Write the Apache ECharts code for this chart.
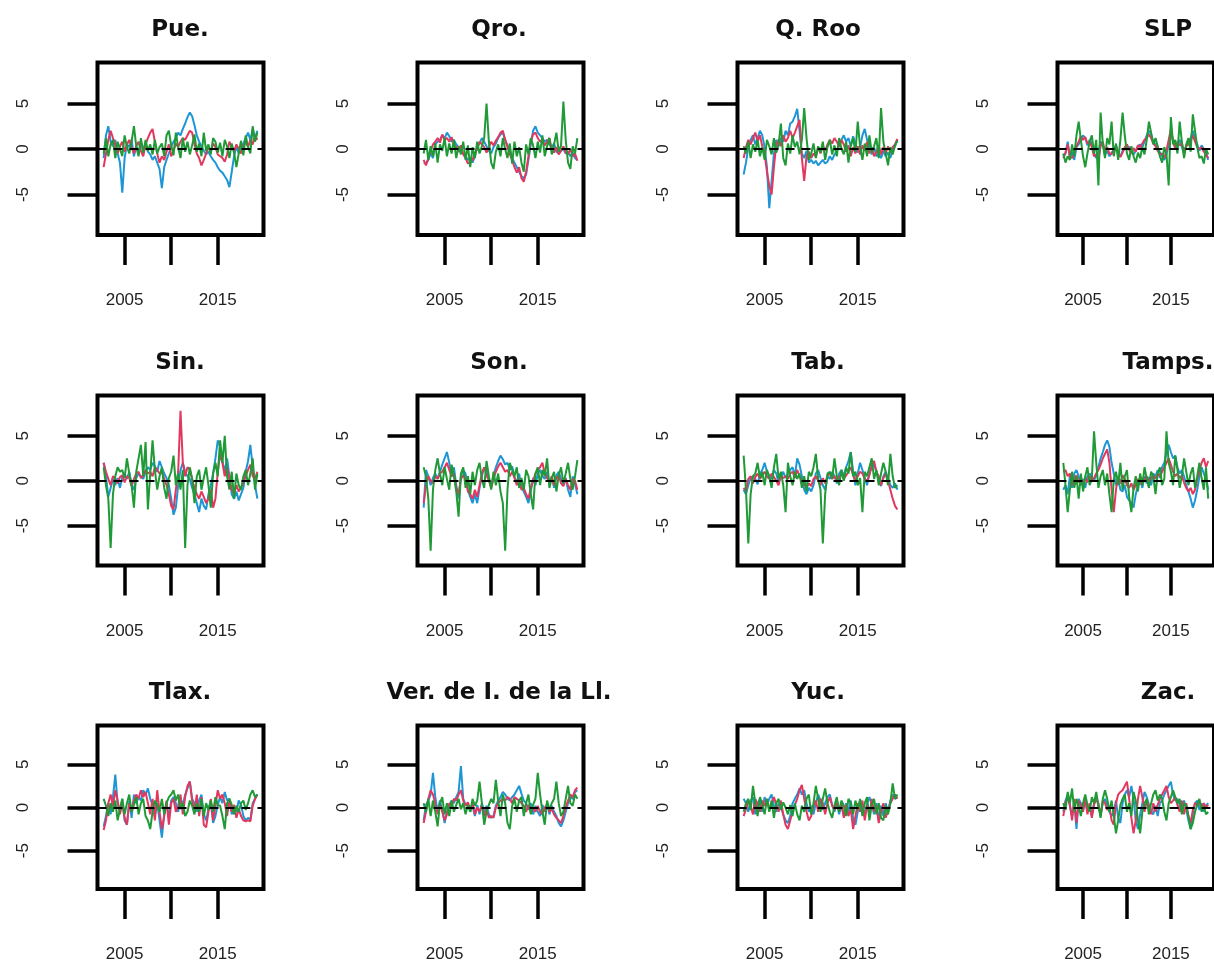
<!DOCTYPE html>
<html style="height:100%">
<head>
    <meta charset="UTF-8">
    <title>Panels</title>
    <script src="https://cdn.jsdelivr.net/npm/echarts@6/dist/echarts.min.js"></script>
</head>
<body style="height:100%;margin:0">
<div id="main" style="width:1214px;height:963px"></div>
<script>
// quarterly observations, first one at 2002 Q4
var firstQuarter = 2002.75, quarterStep = 0.25;
var tickYears = [2005, 2010, 2015];
var labelYears = [2005, 2015];
var yTicks = [-5, 0, 5];
var panelTitles = ['Pue.', 'Qro.', 'Q. Roo', 'SLP', 'Sin.', 'Son.', 'Tab.', 'Tamps.',
    'Tlax.', 'Ver. de I. de la Ll.', 'Yuc.', 'Zac.'];

var pueBlue = [-1.0,1.5,2.5,0.8,0.3,1.0,-0.5,-1.5,-4.8,-1.0, 0.5,0.2,1.0,-0.8,0.3,-0.5,0.8,-0.2,0.5,-0.3, -0.6,-1.2,-0.8,-1.5,-2.2,-4.3,-2.0,-1.2,-0.5,0.3, 0.8,1.2,1.8,1.5,2.2,2.8,3.5,4.0,3.6,2.6, 1.5,0.8,0.3,-0.2,-0.6,-0.3,-0.8,-1.2,-1.5,-2.0, -2.4,-2.6,-3.0,-3.4,-4.2,-2.5,-0.8,0.3,-0.5,0.2, 0.6,1.2,1.8,1.0,2.2,1.2,2.0];
var pueRed = [-2.0,-0.5,1.0,2.0,1.2,0.5,-0.5,0.3,0.8,-0.3, 0.5,1.0,0.2,-0.5,0.3,0.8,-0.2,-0.8,0.5,1.2, 1.8,2.2,0.8,-0.5,-1.5,-0.8,-1.2,-0.3,0.5,-0.8, -0.2,0.6,0.2,0.8,1.2,1.0,1.5,2.0,1.8,0.5, -0.5,-1.0,-1.8,-1.2,-0.5,0.2,-0.3,0.6,0.2,-0.6, -0.8,-1.0,-1.4,-0.6,0.8,0.2,-0.3,0.5,0.0,-0.5, 0.3,0.8,0.2,1.0,0.5,1.5,1.0];
var pueGreen = [-0.5,1.2,-0.8,0.5,1.0,-1.0,0.8,0.0,-0.8,1.5, 0.2,-0.5,0.8,2.5,0.3,-0.8,1.2,-0.4,1.0,-0.2, 0.5,-0.6,1.0,-0.5,0.2,0.6,-0.8,1.5,2.0,0.4, -0.7,1.8,0.2,-1.0,1.2,-0.3,0.8,-0.6,0.4,1.6, -0.3,0.6,-0.8,1.8,-0.2,0.5,-0.6,1.2,0.8,-0.4, 0.7,-0.8,1.0,0.3,-1.0,0.6,-0.4,-2.0,-0.5,0.9, -0.7,1.5,0.2,-0.5,2.5,0.8,1.8];

var qroBlue = [-1.5,-1.6,-1.2,-0.5,-1.0,0.5,0.8,1.0,1.5,1.2, 1.8,1.4,0.8,1.0,0.5,0.2,0.0,-0.5,-0.8,-1.2, -1.0,-1.5,-0.8,0.2,0.6,1.2,0.8,0.3,-0.2,-0.5, 0.2,0.6,1.2,1.6,1.8,1.0,0.4,-0.2,-1.0,-1.5, -2.0,-2.5,-3.0,-3.2,-2.8,-1.2,0.5,2.0,2.5,1.8, 1.5,1.2,0.8,1.0,0.5,0.2,0.6,-0.3,-0.5,-0.2, 0.0,-0.5,-0.3,-0.8,-0.4,-1.0,-1.2];
var qroRed = [-1.2,-1.8,-1.0,-0.2,0.5,0.8,1.2,0.7,1.6,1.0, 1.2,0.8,1.3,0.5,0.2,-0.3,0.4,-0.6,-1.0,-1.6, -1.4,-1.2,-0.5,0.0,0.8,0.5,0.2,-0.4,0.2,0.8, 0.4,0.9,1.3,1.8,2.0,1.0,0.2,-0.6,-1.2,-2.0, -2.6,-2.0,-3.2,-3.6,-2.5,-0.8,0.8,1.6,1.8,1.2, 0.8,1.0,0.4,0.8,1.2,0.0,-0.4,0.2,-0.6,-0.2, 0.3,-0.4,-0.6,0.0,-0.8,-0.5,-1.3];
var qroGreen = [-0.5,1.0,-1.2,0.3,-0.8,0.6,-1.5,0.5,-0.2,1.2, -0.8,0.6,-0.5,1.0,-1.0,0.3,-0.6,0.8,-1.2,0.4, -2.0,0.2,-1.0,0.8,-0.5,0.3,1.2,5.0,0.8,-1.5, -2.2,-0.3,0.5,-0.8,1.2,0.0,-1.0,0.6,-1.6,0.8, -0.8,0.2,-1.5,-2.5,0.5,-0.6,1.2,0.4,-1.0,0.8, -0.4,1.5,-0.8,0.3,1.2,-0.6,0.5,1.8,-0.3,0.4, 5.2,1.0,-1.5,-2.2,0.3,-0.5,1.2];

var qrooBlue = [-2.8,-1.5,0.2,1.0,1.5,0.5,1.2,2.0,1.5,0.2, -2.0,-6.5,-3.5,-0.5,1.0,0.3,1.2,0.8,2.0,1.5, 2.8,3.0,3.6,4.4,2.0,-0.5,-1.0,-0.2,-1.5,-1.2, -1.6,-1.3,-1.8,-1.5,-1.2,-1.6,-1.4,-0.8,-1.2,-0.6, -0.2,0.5,1.0,1.5,0.8,1.2,0.3,1.4,0.6,-0.4, 0.2,1.5,2.2,1.0,0.4,-0.6,0.2,-0.8,-0.5,-1.0, -0.2,-0.8,-0.4,-1.0,0.0,0.3,1.0];
var qrooRed = [-1.0,0.2,1.0,0.5,1.2,1.8,0.8,1.5,0.3,-0.5, -2.5,-4.0,-5.0,-2.0,0.5,1.0,0.3,1.5,0.8,1.2, 2.0,1.2,1.8,2.5,3.2,-1.0,-3.5,-0.8,-0.3,-1.0, -0.5,-0.8,0.2,-0.5,0.3,-0.2,0.5,1.0,0.6,1.2, 0.8,0.2,1.0,0.5,-0.3,0.4,-0.8,0.2,-0.5,0.3, -0.6,0.4,-0.2,0.8,-0.5,0.2,-0.8,-0.3,0.4,-0.6, 0.2,-0.5,0.3,-0.4,0.2,0.5,1.1];
var qrooGreen = [0.3,-0.5,0.8,-1.0,0.5,-0.3,1.0,-0.8,0.2,-1.2, 1.0,0.3,-0.6,1.2,-0.4,0.5,2.8,-1.0,-1.8,0.6, -0.5,1.5,0.2,0.8,-0.6,1.0,4.5,1.2,-1.2,-0.5, 0.6,-1.0,0.3,-0.4,0.8,-1.2,0.2,1.0,-0.6,0.4, -0.8,1.2,0.0,-0.6,0.8,-1.5,0.4,1.2,-0.3,3.0, 0.2,-1.2,0.6,-0.8,1.5,-0.4,0.3,1.2,-1.0,4.5, 0.8,-0.5,-1.8,0.2,-0.6,0.4,0.9];

var slpBlue = [-0.8,-0.5,0.8,-1.0,-0.3,-1.2,0.2,0.5,1.0,1.5, 1.2,0.4,1.0,0.6,-0.5,-1.0,-0.3,0.8,0.5,-0.6, -0.2,-0.8,-0.4,-0.2,0.4,-0.6,-0.8,-0.2,0.0,0.3, 0.2,-0.4,-0.6,-0.2,0.3,0.5,0.2,0.8,1.5,2.0, 1.6,0.8,0.5,0.2,-0.4,-0.8,-1.2,-0.6,0.5,1.8, 1.0,0.3,0.6,1.0,0.2,-0.5,0.4,0.8,1.2,2.0, 1.2,0.5,-0.2,0.4,0.0,-0.4,-1.2];
var slpRed = [-1.0,-0.4,0.5,-0.8,-1.0,-0.5,0.3,0.8,1.4,1.0, 1.3,0.6,0.8,0.2,-0.8,-0.6,-1.2,0.3,0.8,-0.3, 0.2,-0.5,-0.6,0.0,0.3,-0.3,-0.9,-0.4,0.2,0.5, -0.1,-0.5,0.1,-0.3,0.4,0.2,0.6,1.0,1.2,1.6, 1.2,0.6,0.3,-0.2,-0.6,-0.5,-1.0,-0.2,1.0,2.2, 0.8,0.0,0.8,0.4,0.6,-0.2,0.3,0.5,0.9,1.5, 0.8,0.2,0.0,0.2,-0.3,-0.6,-1.0];
var slpGreen = [-0.5,-1.5,-0.8,-1.2,0.5,-0.8,1.5,3.0,1.0,-0.8, -2.0,-0.5,0.8,1.5,-0.5,1.0,-4.0,4.0,0.5,-1.0, 1.2,0.5,3.0,-0.8,0.6,-1.2,1.0,4.0,1.5,-0.5, -1.2,0.3,-0.8,-1.5,-0.4,-1.0,0.2,-0.6,1.0,3.0, 1.8,0.5,1.2,0.3,-0.8,-1.5,0.2,-0.6,-4.0,3.5, 0.5,1.0,-0.5,3.0,0.8,-1.0,0.5,1.2,-0.3,3.8, 2.0,0.2,-1.0,-0.8,-1.6,0.0,-0.6];

var sinBlue = [2.0,0.5,-1.8,-0.8,0.2,-0.5,0.3,-0.8,0.4,0.8, 0.2,1.0,-0.5,-1.0,0.3,0.8,0.5,0.2,1.0,1.5, 1.2,2.0,1.6,1.0,2.2,1.5,0.8,0.3,-0.5,-2.0, -3.8,-3.0,-0.5,1.2,2.0,1.0,0.5,0.2,-0.8,-1.5, -2.5,-3.5,-2.0,-2.8,-3.2,-1.5,-0.5,0.8,2.5,4.5, 3.8,2.2,1.0,2.5,0.5,-1.5,-2.0,-1.2,-2.2,-1.5, -0.8,1.0,2.2,4.0,1.5,-0.5,-2.0];
var sinRed = [2.0,1.0,0.2,-0.5,0.5,0.2,-0.3,0.4,0.6,-0.2, 0.5,0.3,-0.6,0.2,0.8,1.0,0.3,0.6,1.2,0.8, 1.0,0.5,1.5,1.2,0.8,1.0,0.2,-0.5,-1.5,-2.8, -3.2,-1.0,1.0,7.8,2.0,0.5,1.5,1.2,0.2,-0.8, -1.5,-2.0,-1.2,-1.8,-2.5,-2.0,-1.0,-3.0,-2.0,1.0, 3.0,2.0,0.5,1.5,0.2,-1.0,-1.5,-0.5,-1.2,-0.8, -0.2,0.5,1.2,1.8,0.5,0.2,1.0];
var sinGreen = [1.5,-0.5,-2.0,-7.5,-1.5,0.5,1.5,1.0,1.2,0.3, 2.5,0.8,-0.5,-3.0,1.0,2.5,4.0,0.5,4.3,-3.2, 0.8,4.5,1.2,-1.0,0.5,1.5,-0.8,-2.0,0.3,1.0, 2.8,-0.5,0.8,-1.0,1.2,-7.5,-0.5,1.5,0.2,-2.5, 0.5,1.2,-1.0,0.3,1.5,-0.5,-3.0,0.8,2.0,0.5, 4.5,2.0,5.0,0.5,-1.0,1.0,-2.0,0.8,-0.5,-1.0, 0.5,1.2,-0.5,0.8,2.5,-1.0,0.8];

var sonBlue = [-3.0,1.2,0.5,-0.5,0.3,0.8,0.2,1.0,1.8,2.5, 3.2,2.0,0.5,1.5,-0.5,-2.0,0.5,1.2,0.8,-1.0, -1.8,-2.5,-1.5,-2.5,-0.8,0.5,1.5,1.0,0.2,-0.5, 0.5,1.5,2.2,2.8,2.4,1.8,2.0,1.2,1.6,0.5, -0.3,0.8,-0.8,-1.2,-1.8,-2.5,-1.2,0.3,-0.5,0.8, 1.2,0.5,0.2,1.0,-0.3,0.4,-0.8,0.6,1.0,0.2, -0.5,0.3,-1.0,-1.8,0.5,-0.3,-1.5];
var sonRed = [-2.5,-0.5,0.5,0.0,-0.3,0.5,0.2,0.8,1.0,1.5, 2.0,1.2,0.5,0.8,-0.8,-1.5,0.2,0.6,0.3,-1.2, -1.5,-2.0,-1.0,-1.8,-0.5,0.8,1.5,0.6,0.0,-0.8, 0.2,1.0,1.6,2.0,1.5,1.0,1.2,0.5,1.0,0.3, -0.5,0.2,-1.0,-0.8,-1.5,-2.0,-0.8,0.0,0.8,1.2, 1.5,2.0,0.8,0.3,-0.2,0.5,-0.5,0.3,0.6,-0.3, -0.6,0.2,-0.5,-1.0,0.2,0.0,-1.0];
var sonGreen = [1.5,0.5,-2.0,-7.8,-1.0,1.2,2.5,0.8,-0.5,1.5, 0.2,-1.0,1.8,0.5,-1.2,-4.0,0.8,1.5,-0.8,0.5, -1.5,1.0,-0.5,1.2,2.0,0.2,-0.8,2.2,0.5,-1.0, 1.0,-0.5,0.8,-1.2,-2.5,-7.8,-1.0,2.0,1.2,0.5, 1.5,-0.8,0.3,-1.0,1.2,0.5,-1.5,-3.2,0.8,1.5, -0.5,1.2,0.5,2.5,-0.8,0.3,1.0,-1.2,0.6,1.5, -0.3,0.8,2.0,0.2,-1.0,0.5,2.3];

var tabBlue = [-1.0,-1.5,-0.5,0.3,0.5,0.2,-0.4,0.8,1.2,2.0, 1.0,0.5,0.2,1.2,0.8,-0.2,0.5,1.0,0.3,0.8, 1.2,1.5,0.5,2.5,1.8,0.5,-1.0,-1.5,-0.8,-1.2, -0.5,0.8,1.2,0.3,-0.5,-1.0,0.5,0.2,1.0,0.5, -0.3,0.8,1.2,0.5,1.5,2.2,3.2,1.0,-0.5,0.8, 2.0,1.2,0.3,-0.5,0.8,1.5,1.8,1.0,0.2,-0.6, 0.5,1.0,0.3,-0.5,-0.8,-0.3,-1.0];
var tabRed = [-0.8,-1.2,0.2,0.5,-0.3,0.4,0.8,0.2,0.6,1.0, 0.5,0.2,0.8,0.4,0.0,-0.5,0.6,0.3,0.5,0.2, 0.8,1.0,0.3,1.2,0.5,0.0,-0.4,-0.8,-0.3,-0.6, 0.2,0.5,0.0,-0.5,0.3,-0.3,0.6,0.8,0.2,0.5, 0.0,0.4,0.8,0.2,0.6,1.0,1.5,0.6,0.0,0.5, 1.0,0.8,0.2,0.0,0.6,1.8,2.2,1.0,0.5,-0.5, 0.3,0.8,0.0,-1.0,-2.0,-2.8,-3.2];
var tabGreen = [2.8,-1.0,-7.0,-1.5,0.5,0.8,2.0,0.3,1.0,-0.5, 1.2,0.5,-0.8,1.5,3.0,0.2,1.0,-0.5,-3.5,2.0, 0.5,-0.5,1.0,0.2,0.8,-0.8,0.5,-1.2,1.0,0.5, 1.5,3.0,0.2,-1.0,-7.0,-1.5,0.8,1.0,0.2,2.5, 0.5,-0.5,1.2,0.0,1.5,0.8,3.2,0.5,1.0,-0.5, 0.3,-3.5,1.0,0.5,1.5,2.5,0.2,1.2,-0.5,0.8, 2.0,1.0,-0.5,3.0,0.5,-0.8,-0.5];

var tampsBlue = [-1.0,-0.5,-1.5,0.5,-0.8,0.8,1.2,0.5,-0.5,0.2, -0.8,0.5,0.8,0.3,0.0,0.6,1.5,2.5,3.2,4.0, 4.5,3.8,2.0,0.8,-0.5,0.3,-1.0,-1.2,-0.5,-1.8, -2.2,-2.5,-3.0,-1.5,-0.5,0.2,-0.8,0.5,-0.3,0.4, -0.5,0.8,0.5,1.2,0.3,1.5,2.0,3.0,4.0,3.2, 2.5,2.8,1.5,0.8,1.2,0.5,-0.5,-1.2,-2.0,-3.0, -2.2,-1.0,0.5,1.5,0.8,0.2,-1.0];
var tampsRed = [1.0,1.2,0.5,0.8,-0.5,0.2,0.6,-0.2,0.3,-0.6, 0.4,-0.2,0.5,0.0,0.3,0.8,1.2,1.8,2.5,3.0, 3.5,2.0,-1.0,-3.5,-1.0,0.5,-0.3,0.6,0.2,-0.5, -0.8,-0.3,-1.0,-0.5,0.2,-0.4,0.3,0.0,0.5,-0.2, 0.3,0.6,0.2,0.8,0.5,1.0,1.5,2.0,2.5,1.8, 1.0,0.5,0.8,0.3,0.6,-0.2,-0.8,-1.2,-0.8,-1.5, -1.0,0.2,1.0,2.0,2.5,1.5,2.2];
var tampsGreen = [2.0,-0.5,-3.5,-1.0,1.0,-0.8,0.5,-2.0,0.8,-1.2, 0.5,1.5,-0.5,0.2,5.5,2.0,-0.8,0.5,1.2,-0.5, 0.8,-1.5,-3.5,0.2,1.0,-0.5,2.0,-1.0,0.5,1.2, -1.8,-3.5,-0.8,0.5,-1.2,0.8,-0.5,1.5,0.2,-0.8, 1.0,0.5,-1.5,0.8,1.5,-0.5,0.2,5.5,2.0,1.0, -0.5,2.8,1.2,-0.8,0.5,2.5,1.0,-0.5,0.8,1.5, -0.8,0.5,2.0,0.3,-1.0,1.5,-2.0];

var tlaxBlue = [-2.2,-1.0,0.5,-0.8,1.2,3.8,0.5,-0.5,1.0,-1.5, -2.0,0.8,-1.2,1.5,0.5,1.2,0.8,2.0,1.5,2.2, 1.0,0.3,-1.0,0.5,-1.5,-3.5,-0.8,0.5,-1.2,0.8, 1.2,0.5,-0.5,1.0,0.3,1.5,2.2,3.0,1.0,0.5, -0.5,0.8,1.5,-0.8,-1.5,-0.2,0.5,-1.8,-1.0,0.3, 1.2,0.5,1.8,0.8,1.0,-0.8,0.2,-0.5,0.8,0.3, -1.0,-1.5,-1.2,-1.4,0.5,1.0,1.5];
var tlaxRed = [-2.6,-1.5,0.5,1.5,0.2,2.0,0.8,-0.8,0.5,-1.2, -2.0,0.5,-0.5,0.8,1.5,1.0,2.0,1.2,1.8,0.5, -0.8,1.0,-1.5,2.0,-0.5,-2.5,-1.0,0.8,-2.0,0.5, 1.0,-0.5,0.2,1.5,-0.8,1.2,2.5,3.0,0.8,-0.5, 1.5,-1.0,1.2,-2.0,-2.3,-0.5,1.0,-1.5,0.2,2.0, 1.0,1.5,0.5,-1.0,0.8,-0.5,0.3,-1.2,-0.2,-1.0, -1.5,-1.6,-1.5,-1.6,0.2,1.0,1.5];
var tlaxGreen = [1.0,0.2,-1.0,0.5,-0.5,0.8,-1.5,-0.2,1.0,-0.8, 0.5,1.5,-0.5,0.3,1.2,-0.8,0.5,1.0,-1.0,-1.5, -2.5,-0.5,0.8,0.2,-0.5,1.0,-0.8,0.5,1.2,1.5, 2.0,0.8,1.5,-0.2,0.5,-1.0,-0.5,0.8,0.2,-0.8, 0.5,-0.5,1.0,-1.0,0.5,-0.3,0.8,-0.5,1.2,0.3, 0.2,-1.0,-2.5,0.5,1.0,0.3,-0.8,0.2,-0.5,0.5, 0.8,-0.3,0.5,1.5,2.0,1.2,1.5];

var verBlue = [-1.5,0.3,0.8,1.5,4.0,1.2,-0.5,0.8,-0.3,-1.8, -0.5,0.2,0.8,0.5,1.2,1.8,4.8,1.0,0.3,0.5, -0.5,0.2,-1.0,0.3,-0.8,0.5,-0.5,0.2,-0.8,-1.2, -1.0,0.2,0.8,1.2,1.8,1.5,1.0,0.8,1.2,1.5, 2.0,2.5,1.6,0.8,0.5,-0.3,0.5,-0.8,0.2,-0.5, -1.0,0.3,-0.5,0.5,-0.8,0.2,-0.5,-1.0,-1.8,-2.2, -1.5,-0.5,0.5,1.2,1.0,1.8,2.0];
var verRed = [-1.8,-0.5,1.0,2.0,1.5,0.5,-0.8,0.3,-0.5,-1.5, -0.8,0.5,0.2,1.0,0.8,1.5,2.0,0.8,0.2,0.6, -0.3,0.5,-0.8,0.0,-0.5,0.3,-1.0,-0.2,-1.2,-1.0, -1.2,0.0,0.5,0.8,1.0,0.8,1.2,1.0,0.5,1.2, 1.0,0.8,0.5,0.2,-0.5,0.3,-0.6,0.0,-0.5,0.2, -0.5,-0.8,0.0,0.3,-0.5,-0.2,-0.8,-1.2,-1.5,-1.8, -1.0,0.0,0.8,1.5,1.2,2.0,2.3];
var verGreen = [0.5,-0.5,1.0,-1.0,0.8,-0.5,-2.2,0.5,1.2,-0.8, 0.5,-1.0,0.8,-0.5,0.3,1.0,-0.2,0.5,-0.8,0.3, -0.5,1.0,0.2,0.8,3.0,0.5,-2.0,-0.5,0.3,1.0, 0.5,3.2,0.8,-1.0,1.5,0.5,-1.8,-2.5,0.2,1.0, -0.5,0.8,1.2,-1.0,0.5,1.5,-0.8,0.3,1.0,4.0, 1.5,-0.5,-2.0,0.8,-0.3,0.5,1.0,3.0,0.5,-1.0, -0.5,1.0,2.5,0.5,0.2,1.5,1.0];

var yucBlue = [1.0,0.5,-0.5,0.8,1.2,-0.8,0.5,1.0,-0.5,1.2, 0.3,1.0,1.5,0.2,-0.5,0.5,0.0,-0.8,-1.5,-1.8, -1.0,0.5,1.0,1.5,2.2,1.5,2.0,0.5,-0.5,0.2, -0.8,0.5,1.5,0.8,-0.3,0.5,1.2,1.5,0.3,-0.5, 0.5,-0.8,0.3,-1.0,0.5,-0.5,0.8,-1.2,-2.0,-0.5, 0.8,0.2,-1.0,0.5,1.2,0.3,-0.8,0.5,-1.5,0.2, -1.0,0.5,-0.5,0.8,1.5,1.0,1.2];
var yucRed = [-1.0,-0.2,0.8,0.2,-0.8,1.0,0.3,-0.5,0.8,0.2, 1.0,-0.3,0.5,1.2,0.3,-0.5,0.8,-0.8,-2.0,-2.5, -1.5,-0.5,0.3,1.0,2.0,2.6,1.0,-0.5,-1.5,-1.0, 0.2,0.8,-0.5,1.0,0.5,-0.8,0.5,1.2,0.2,-0.3, 0.8,-0.5,0.5,-1.2,0.3,-1.0,-0.2,-2.5,-1.0,0.5, -0.5,0.8,-1.5,0.3,-0.8,1.0,-0.5,0.2,-1.8,-0.5, 0.5,-1.2,-0.3,0.5,1.0,1.5,1.0];
var yucGreen = [-0.5,0.5,1.0,-0.3,2.5,0.5,-1.0,1.2,0.3,-0.8, 1.0,-0.5,0.8,-1.2,0.5,1.0,-0.3,0.6,0.0,-0.8, 0.3,-1.0,0.5,-0.8,-1.5,0.2,-0.5,1.0,1.5,-0.8, 0.5,2.5,1.0,-0.5,1.0,2.2,0.5,-0.5,-1.2,0.2, 1.2,-0.5,0.8,0.2,-1.0,1.0,0.5,-0.8,0.8,-0.3, 1.0,-1.0,0.5,1.2,-1.5,0.3,1.0,-0.8,0.5,-1.2, -1.5,0.2,-0.8,0.5,2.8,1.0,1.5];

var zacBlue = [-0.5,0.8,1.5,0.2,-1.0,0.5,-2.5,1.0,0.5,-0.3, 0.8,-0.5,0.3,-1.0,0.5,1.2,0.2,-0.8,0.5,1.0, 0.3,-0.5,-1.0,-0.5,0.8,-1.2,-1.8,0.5,1.5,2.0, 1.2,2.5,1.0,-1.5,-2.5,-0.8,0.5,1.8,1.2,0.3, -0.5,-0.8,0.2,-1.0,0.5,0.8,1.5,2.0,2.5,3.0, 1.5,0.8,1.0,0.3,-0.5,0.8,-0.3,-1.5,-2.5,-0.8, 0.5,0.8,-0.3,0.5,-0.5,0.2,0.5];
var zacRed = [-1.0,0.5,1.2,0.3,-1.5,1.0,-1.8,0.8,0.2,-0.5, 1.0,-0.8,0.5,-1.2,0.3,1.0,0.5,-1.0,0.8,0.5, -0.3,0.2,-1.5,-2.0,0.5,1.5,1.8,2.0,2.5,3.0, 1.0,-1.2,-3.0,-1.5,1.0,2.5,1.2,-0.5,0.8,0.2, -0.8,0.5,-0.5,0.3,1.0,1.5,2.0,2.5,1.2,0.5, 0.8,1.2,0.3,-0.5,0.8,-0.8,0.5,-1.0,-1.8,-0.3, 0.5,0.3,0.8,-0.2,0.5,0.0,0.3];
var zacGreen = [0.5,-0.3,1.8,0.5,2.2,-0.5,1.0,0.2,-1.0,0.5, 1.5,0.3,-0.5,1.2,0.5,1.8,0.2,-1.2,1.0,2.0, 1.0,-0.5,0.8,-1.0,-3.0,-1.5,0.3,1.0,1.5,-0.5, 0.5,-1.0,1.8,0.8,-1.5,-3.0,-0.5,0.5,1.0,-0.8, 0.5,1.5,2.0,0.8,1.5,1.0,-0.5,-1.5,0.5,1.2, 2.0,1.2,0.5,1.0,-0.8,0.5,0.2,-1.0,-2.5,-1.8, -0.5,0.3,1.0,-0.5,0.2,-0.8,-0.5];

var panelSeries = [
    [pueBlue, pueRed, pueGreen], [qroBlue, qroRed, qroGreen], [qrooBlue, qrooRed, qrooGreen], [slpBlue, slpRed, slpGreen],
    [sinBlue, sinRed, sinGreen], [sonBlue, sonRed, sonGreen], [tabBlue, tabRed, tabGreen], [tampsBlue, tampsRed, tampsGreen],
    [tlaxBlue, tlaxRed, tlaxGreen], [verBlue, verRed, verGreen], [yucBlue, yucRed, yucGreen], [zacBlue, zacRed, zacGreen]
];

// layout of the 4 x 3 grid of boxes
var colLeft = [97.5, 417.5, 737.5, 1057.5];
var boxWidth = 166;
var rowTop = [62.5, 395.5, 725.5];
var rowHeight = [172.5, 170, 170];
var titleX = [180, 499, 818, 1168];
var lineColors = ['#1e96d6', '#e2385f', '#1f9a36'];
var textFont = 'Liberation Sans, Arial, sans-serif';

function toPoints(vals) {
    return vals.map(function (v, i) { return [firstQuarter + i * quarterStep, v]; });
}

var grids = [], xAxes = [], yAxes = [], titles = [], series = [];
for (var p = 0; p < 12; p++) {
    var r = Math.floor(p / 4), c = p % 4;
    grids.push({
        left: colLeft[c], top: rowTop[r], width: boxWidth, height: rowHeight[r],
        show: true, borderColor: '#000', borderWidth: 4, backgroundColor: 'transparent'
    });
    titles.push({
        text: panelTitles[p], left: titleX[c], top: rowTop[r] - 44, textAlign: 'center', padding: 0,
        textStyle: { fontFamily: 'DejaVu Sans, sans-serif', fontWeight: 'bold', fontSize: 23, color: '#111' }
    });
    xAxes.push({
        type: 'value', gridIndex: p, position: 'bottom', min: 2002.09, max: 2019.91,
        axisLine: { show: false, onZero: false }, splitLine: { show: false },
        axisTick: { show: true, length: 30, customValues: tickYears, lineStyle: { color: '#000', width: 3.5 } },
        axisLabel: {
            customValues: labelYears, margin: 57, fontSize: 17, color: '#222', fontFamily: textFont,
            formatter: function (v) { return String(v); }
        }
    });
    yAxes.push({
        type: 'value', gridIndex: p, position: 'left', min: -9.45, max: 9.5,
        axisLine: { show: false, onZero: false }, splitLine: { show: false },
        axisTick: { show: true, length: 30, customValues: yTicks, lineStyle: { color: '#000', width: 3.5 } },
        axisLabel: { customValues: yTicks, rotate: 90, margin: 66, fontSize: 17, color: '#222', fontFamily: textFont }
    });
    for (var s = 0; s < 3; s++) {
        var item = {
            type: 'line', xAxisIndex: p, yAxisIndex: p, showSymbol: false, symbol: 'none',
            data: toPoints(panelSeries[p][s]),
            lineStyle: { color: lineColors[s], width: 2 }, itemStyle: { color: lineColors[s] },
            silent: true, animation: false
        };
        if (s === 2) {
            item.markLine = {
                silent: true, symbol: ['none', 'none'], label: { show: false },
                lineStyle: { color: '#000', type: [9, 7], width: 2.2 },
                data: [{ yAxis: 0 }]
            };
        }
        series.push(item);
    }
}

var chart = echarts.init(document.getElementById('main'), null, { renderer: 'canvas' });
chart.setOption({
    backgroundColor: '#fff',
    animation: false,
    title: titles,
    grid: grids,
    xAxis: xAxes,
    yAxis: yAxes,
    series: series
});
</script>
</body>
</html>
